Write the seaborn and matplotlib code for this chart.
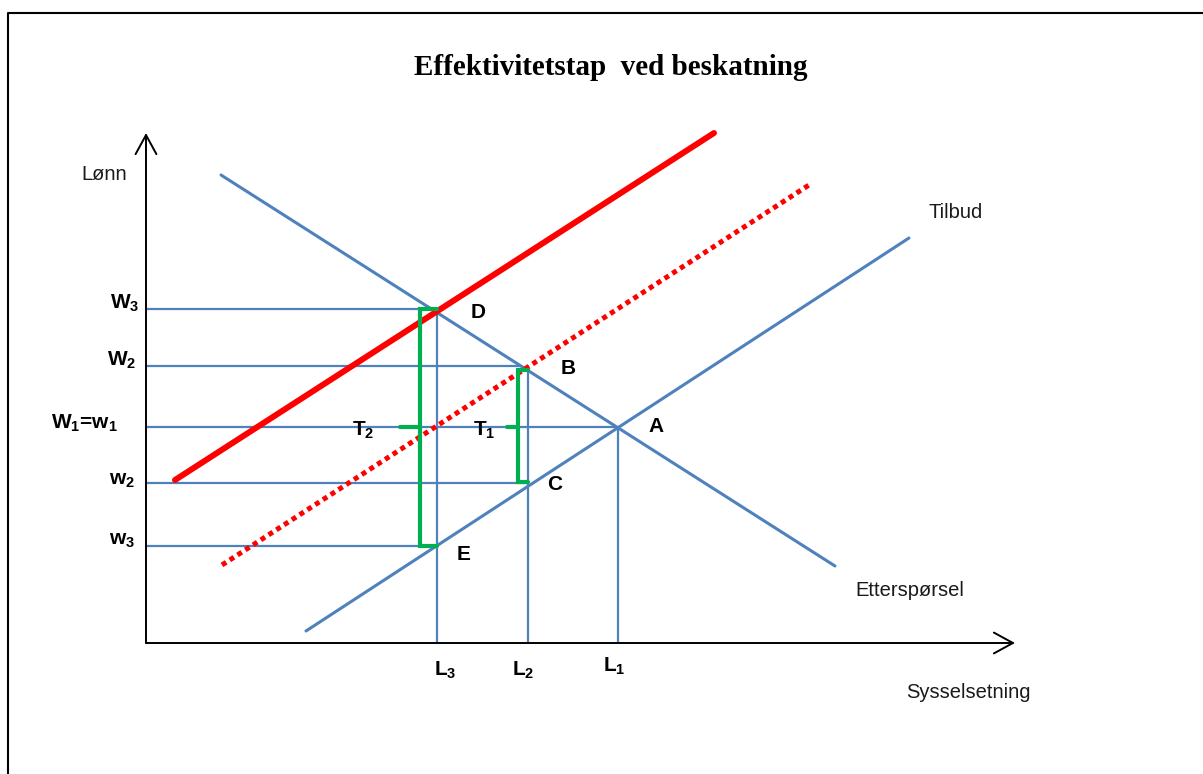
import numpy as np
import pandas as pd
import matplotlib
matplotlib.use("Agg")
import matplotlib.pyplot as plt
import seaborn as sns

# economic coordinates: x = employment, y = wage (origin at the axes corner)
wage_labels = [r"$\mathbf{W_3}$", r"$\mathbf{W_2}$", r"$\mathbf{W_1}$=$\mathbf{w_1}$", r"$\mathbf{w_2}$", r"$\mathbf{w_3}$"]
wage_levels = [334, 277, 216, 160, 97]
wage_ends = [291, 374, 472, 382, 291]

emp_labels = [r"$\mathbf{L_3}$", r"$\mathbf{L_2}$", r"$\mathbf{L_1}$"]
emp_levels = [291, 382, 472]
emp_tops = [334, 277, 216]

demand_x = [75, 689]
demand_y = [468, 77]
supply_x = [160, 763]
supply_y = [12, 405]
tax_supply_x = [29, 568]
tax_supply_y = [163, 510]
tax_supply2_x = [76, 663]
tax_supply2_y = [78, 458]

# tax wedges (brackets): x of spine, top, bottom, right end, left tick
wedge_x = [274, 372]
wedge_top = [334, 273]
wedge_bottom = [97, 161]
wedge_right = [291, 382]
wedge_tick = [254, 361]

points = ["D", "B", "A", "C", "E"]
points_x = [332, 422, 510, 409, 318]
points_y = [331, 274, 216, 159, 89]

x_axis_end = 869
y_axis_end = 510

sns.set_theme(style="white")
plt.rcParams["font.family"] = ["Liberation Sans", "DejaVu Sans"]
plt.rcParams["mathtext.fontset"] = "custom"
plt.rcParams["mathtext.bf"] = "Liberation Sans:bold"
plt.rcParams["mathtext.rm"] = "Liberation Sans"

fig = plt.figure(figsize=(12.03, 7.74), dpi=100)
ax = fig.add_axes([0, 0, 1, 1])
ax.set_xlim(-146, 1057)
ax.set_ylim(-131, 643)
ax.axis("off")

blue = "#4F81BD"
green = "#00B050"
red = "#FF0000"

# frame around the picture
ax.plot([-138.5, -138.5, 1057], [-131, 630.5, 630.5], color="black", lw=1.5, clip_on=False)

# axes arrows
arr = dict(arrowstyle="->,head_length=0.55,head_width=0.3", lw=1.4, color="black",
           mutation_scale=25, shrinkA=0, shrinkB=0)
ax.annotate("", xy=(0, y_axis_end), xytext=(0, 0), arrowprops=arr)
ax.annotate("", xy=(x_axis_end, 0), xytext=(0, 0), arrowprops=arr)

# wage and employment guide lines
for w, e in zip(wage_levels, wage_ends):
    sns.lineplot(x=[0, e], y=[w, w], color=blue, lw=1.6, ax=ax, estimator=None, sort=False)
for l, t in zip(emp_levels, emp_tops):
    sns.lineplot(x=[l, l], y=[0, t], color=blue, lw=1.6, ax=ax, estimator=None, sort=False)

# curves
sns.lineplot(x=demand_x, y=demand_y, color=blue, lw=2.2, ax=ax)
sns.lineplot(x=supply_x, y=supply_y, color=blue, lw=2.2, ax=ax)
sns.lineplot(x=tax_supply_x, y=tax_supply_y, color=red, lw=4.3, ax=ax,
             solid_capstyle="round")
sns.lineplot(x=tax_supply2_x, y=tax_supply2_y, color=red, lw=3.6, ax=ax,
             dashes=False, linestyle=(0, (1, 0.85)), dash_capstyle="butt")

# brackets
for i in range(len(wedge_x)):
    ax.plot([wedge_right[i], wedge_x[i], wedge_x[i], wedge_right[i]],
            [wedge_top[i], wedge_top[i], wedge_bottom[i], wedge_bottom[i]],
            color=green, lw=3, solid_joinstyle="miter")
    ax.plot([wedge_tick[i], wedge_x[i]], [216, 216], color=green, lw=3)

# labels
bold = dict(fontsize=15, color="black", ha="center", va="center", fontweight="bold")
wage_lab_x = [-21, -24, -62, -24, -24]
wage_lab_y = [340, 283, 220, 162, 102]
for lab, lx, ly in zip(wage_labels, wage_lab_x, wage_lab_y):
    ax.text(lx, ly, lab, **bold)
emp_lab_x = [299, 377, 468]
emp_lab_y = [-27, -27, -23]
for lab, lx, ly in zip(emp_labels, emp_lab_x, emp_lab_y):
    ax.text(lx, ly, lab, **bold)
for p, px, py in zip(points, points_x, points_y):
    ax.text(px, py, p, **bold)
ax.text(217, 213, r"$\mathbf{T_2}$", **bold)
ax.text(338, 213, r"$\mathbf{T_1}$", **bold)

reg = dict(fontsize=14.5, color="#1a1a1a", ha="center", va="center")
ax.text(-42, 469, "Lønn", **reg)
ax.text(810, 431, "Tilbud", **reg)
ax.text(764, 53, "Etterspørsel", **reg)
ax.text(822, -49, "Sysselsetning", **reg)

ax.text(465, 568, "Effektivitetstap  ved beskatning", fontsize=21, fontweight="bold",
        family="Liberation Serif", ha="center", va="baseline", color="black")

fig.savefig("out.png", dpi=100)
